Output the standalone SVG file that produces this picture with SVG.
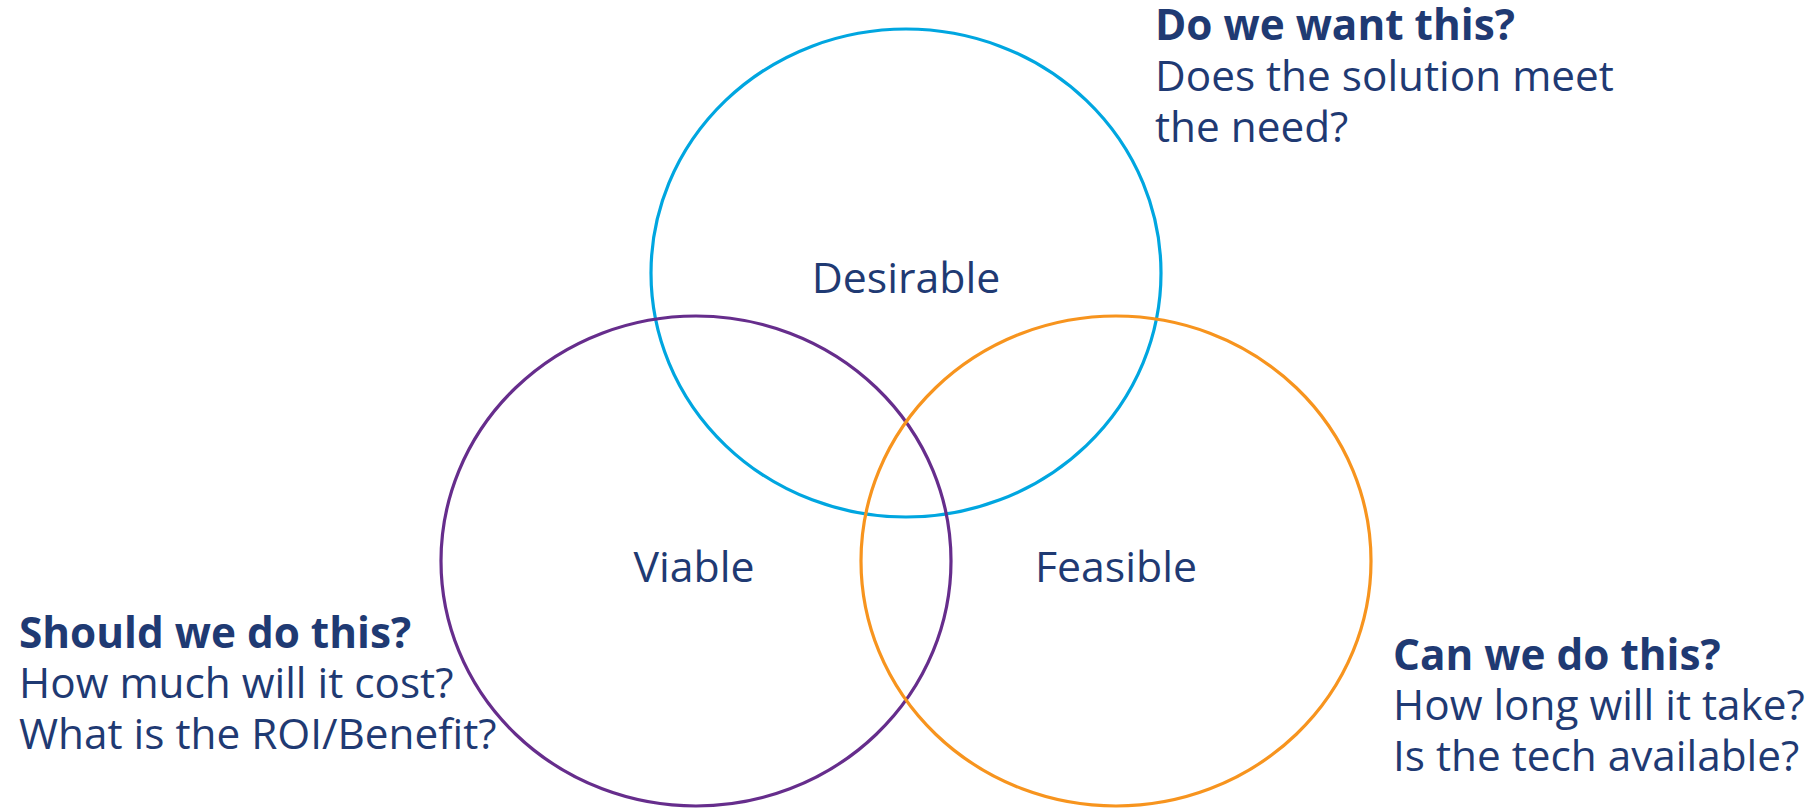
<svg xmlns="http://www.w3.org/2000/svg" width="1813" height="809" viewBox="0 0 1813 809">
<style>
.c{fill:none;stroke-width:3.2}
.t{font-family:"Open Sans","Noto Sans",sans-serif;fill:#1F3A73;font-size:42.3px}
.b{font-weight:bold}
.l{font-family:"Open Sans","Noto Sans",sans-serif;fill:#1F3A73;font-size:42.8px;text-anchor:middle}
</style>
<rect width="1813" height="809" fill="#fff"/>
<g id="desirable">
<ellipse class="c" cx="906" cy="273" rx="255" ry="244" stroke="#00A6E0"/>
<text class="l" x="906" y="293">Desirable</text>
</g>
<g id="viable">
<ellipse class="c" cx="696" cy="561" rx="255" ry="245" stroke="#662D8C"/>
<text class="l" x="694" y="582">Viable</text>
</g>
<g id="feasible">
<ellipse class="c" cx="1116" cy="561" rx="255" ry="245" stroke="#F7941E"/>
<text class="l" x="1116" y="582">Feasible</text>
</g>
<g id="desirable-note">
<text class="t b" x="1155" y="40">Do we want this?</text>
<text class="t" x="1155" y="91">Does the solution meet</text>
<text class="t" x="1155" y="142">the need?</text>
</g>
<g id="viable-note">
<text class="t b" x="19" y="648">Should we do this?</text>
<text class="t" x="19" y="698">How much will it cost?</text>
<text class="t" x="19" y="749">What is the ROI/Benefit?</text>
</g>
<g id="feasible-note">
<text class="t b" x="1393" y="670">Can we do this?</text>
<text class="t" x="1393" y="720">How long will it take?</text>
<text class="t" x="1393" y="771">Is the tech available?</text>
</g>
<g id="connectors"></g>
</svg>
